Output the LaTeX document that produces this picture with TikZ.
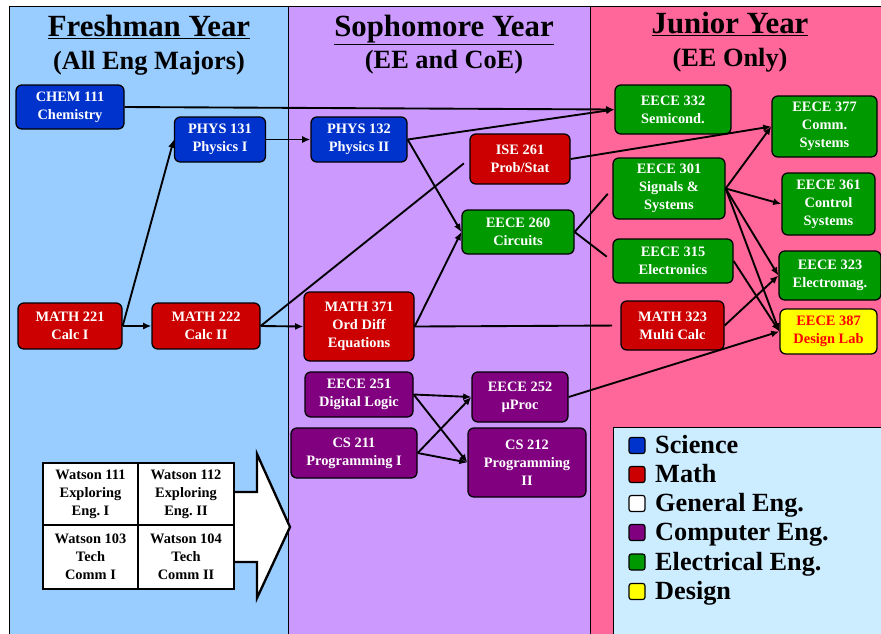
\documentclass[tikz,border=0pt]{standalone}
\usepackage{fontspec}
\setmainfont{Liberation Serif}
\usetikzlibrary{arrows.meta}
\definecolor{cFresh}{HTML}{99CCFF}
\definecolor{cSoph}{HTML}{CC99FF}
\definecolor{cJunior}{HTML}{FF6699}
\definecolor{cLegend}{HTML}{CCECFF}
\definecolor{cScience}{HTML}{0033CC}
\definecolor{cMath}{HTML}{CC0000}
\definecolor{cComp}{HTML}{800080}
\definecolor{cElec}{HTML}{009900}
\definecolor{cDesign}{HTML}{FFFF00}
\definecolor{cDesignText}{HTML}{FF0000}
\tikzset{
  boxsize/.style 2 args={minimum width=#1*0.3mm, minimum height=#2*0.3mm},
  course/.style={draw=black, rounded corners=5pt, line width=1.1pt,
    align=center, text=white, inner sep=1pt,
    font=\fontsize{12.3}{15.3}\selectfont\bfseries},
  scibox/.style={course, fill=cScience},
  mathbox/.style={course, fill=cMath},
  compbox/.style={course, fill=cComp},
  elecbox/.style={course, fill=cElec},
  designbox/.style={course, fill=cDesign, text=cDesignText},
  genbox/.style={course, fill=white, text=black, rounded corners=0pt,
    line width=1.4pt},
  panel/.style={draw=black, line width=0.7pt},
  yeartitle/.style={anchor=base, font=\fontsize{26.3}{30}\selectfont\bfseries},
  yearsub/.style={anchor=base, font=\fontsize{22.5}{26}\selectfont\bfseries},
  legkey/.style={draw=black, line width=1pt, rounded corners=2pt,
    minimum size=4.8mm, inner sep=0pt},
  legtext/.style={anchor=base west, inner sep=0pt,
    font=\fontsize{22.4}{26}\selectfont\bfseries},
  flow/.style={-{Latex[length=7pt, width=6pt]}, line width=1.6pt},
  openflow/.style={line width=1.6pt, shorten >=6pt},
}
\begin{document}
\frenchspacing
\begin{tikzpicture}[x=0.3mm, y=-0.3mm]
  \useasboundingbox (0,0) rectangle (881,633);

  % ----------------------------------------------------------------
  % Year panels
  % ----------------------------------------------------------------
  \draw[panel, fill=cFresh] (9,6) rectangle (288,645);
  \draw[panel, fill=cSoph] (288,6) rectangle (590,645);
  \draw[panel, fill=cJunior] (590,6) rectangle (895,645);
  \draw[panel, fill=cLegend] (613,427) rectangle (895,645);

  \node[yeartitle] (t1) at (149,36) {\underline{Freshman Year}};
  \node[yearsub] (s1) at (149,69) {(All Eng Majors)};
  \node[yeartitle] (t2) at (444,36) {\underline{Sophomore Year}};
  \node[yearsub] (s2) at (444,68) {(EE and CoE)};
  \node[yeartitle] (t3) at (730,33) {\underline{Junior Year}};
  \node[yearsub] (s3) at (730,66) {(EE Only)};

  % ----------------------------------------------------------------
  % Freshman courses
  % ----------------------------------------------------------------
  \node[scibox, boxsize={108}{44}] (chem111) at (70,107) {CHEM 111\\Chemistry};
  \node[scibox, boxsize={91}{45}] (phys131) at (220,139.5) {PHYS 131\\Physics I};
  \node[mathbox, boxsize={104}{46}] (math221) at (70,326) {MATH 221\\Calc I};
  \node[mathbox, boxsize={108}{46}] (math222) at (206,326) {MATH 222\\Calc II};

  % general engineering block feeding into the later years
  \draw[line width=2pt, fill=white] (225,492) -- (257,492) -- (257,454)
    -- (290,527) -- (257,598) -- (257,562) -- (225,562) -- cycle;
  \node[genbox, boxsize={95}{62}] (watson111) at (90.5,494) {Watson 111\\Exploring\\Eng. I};
  \node[genbox, boxsize={96}{62}] (watson112) at (186,494) {Watson 112\\Exploring\\Eng. II};
  \node[genbox, boxsize={95}{64}] (watson103) at (90.5,557) {Watson 103\\Tech\\Comm I};
  \node[genbox, boxsize={96}{64}] (watson104) at (186,557) {Watson 104\\Tech\\Comm II};

  % ----------------------------------------------------------------
  % Sophomore courses
  % ----------------------------------------------------------------
  \node[scibox, boxsize={96}{45}] (phys132) at (359,139.5) {PHYS 132\\Physics II};
  \node[mathbox, boxsize={100}{50}] (ise261) at (520,159) {ISE 261\\Prob/Stat};
  \node[elecbox, boxsize={112}{44}] (eece260) at (518,232) {EECE 260\\Circuits};
  \node[mathbox, boxsize={110}{69}] (math371) at (359,326.5) {MATH 371\\Ord Diff\\Equations};
  \node[compbox, boxsize={108}{45}] (eece251) at (359,394.5) {EECE 251\\Digital Logic};
  \node[compbox, boxsize={126}{50}] (cs211) at (354,453) {CS 211\\Programming I};
  \node[compbox, boxsize={96}{50}] (eece252) at (520,397) {EECE 252\\µProc};
  \node[compbox, boxsize={118}{69}] (cs212) at (527,462.5) {CS 212\\Programming\\II};

  % ----------------------------------------------------------------
  % Junior courses
  % ----------------------------------------------------------------
  \node[elecbox, boxsize={116}{49}] (eece332) at (673,109.5) {EECE 332\\Semicond.};
  \node[elecbox, boxsize={112}{61}] (eece301) at (669,188.5) {EECE 301\\Signals \&\\Systems};
  \node[elecbox, boxsize={120}{44}] (eece315) at (673,261) {EECE 315\\Electronics};
  \node[mathbox, boxsize={103}{49}] (math323) at (672.5,325.5) {MATH 323\\Multi Calc};
  \node[elecbox, boxsize={105}{61}] (eece377) at (824.5,126.5) {EECE 377\\Comm.\\Systems};
  \node[elecbox, boxsize={93}{62}] (eece361) at (828.5,204) {EECE 361\\Control\\Systems};
  \node[elecbox, boxsize={102}{49}] (eece323) at (830,275.5) {EECE 323\\Electromag.};
  \node[designbox, boxsize={97}{45}] (eece387) at (828.5,331.5) {EECE 387\\Design Lab};

  % ----------------------------------------------------------------
  % Prerequisite links
  % ----------------------------------------------------------------
  \draw[flow] (chem111.east) -- (eece332.west);
  \draw[flow] (phys131) -- (phys132);
  \draw[flow] (math221.east) -- (phys131.west);
  \draw[flow] (math221) -- (math222);
  \draw[flow] (math222.east) -- (math371.west);
  \draw[openflow] (math222.east) -- (ise261.west);
  \draw[flow] (ise261.east) -- (eece377.west);
  \draw[flow] (phys132.east) -- (eece332.west);
  \draw[flow] (phys132.east) -- (eece260.west);
  \draw[flow] (math371.east) -- (eece260.west);
  \draw[openflow, shorten >=7pt] (math371.east) -- (math323.west);
  \draw[openflow] (eece260.east) -- (eece301.west);
  \draw[openflow] (eece260.east) -- (eece315.west);
  \draw[flow] (eece251.east) -- (eece252.west);
  \draw[flow] (eece251.east) -- (cs212.west);
  \draw[flow] (cs211.east) -- (eece252.west);
  \draw[flow] (cs211.east) -- (cs212.west);
  \draw[flow] (eece252.east) -- (eece387.west);
  \draw[flow] (eece301.east) -- (eece377.west);
  \draw[flow] (eece301.east) -- (eece361.west);
  \draw[flow] (eece301.east) -- (eece323.west);
  \draw[flow] (eece301.east) -- (eece387.west);
  \draw[flow] (eece315.east) -- (eece387.west);
  \draw[flow] (math323.east) -- (eece323.west);

  % ----------------------------------------------------------------
  % Legend
  % ----------------------------------------------------------------
  \foreach \keycol/\keyname/\ky [count=\i] in {cScience/Science/445.5,
      cMath/Math/474.5, white/General Eng./503.5, cComp/Computer Eng./532.5,
      cElec/Electrical Eng./562, cDesign/Design/591.5} {
    \node[legkey, fill=\keycol] (key\i) at (637,\ky) {};
    \node[legtext] (label\i) at (655,\ky+8) {\keyname};
  }

\end{tikzpicture}
\end{document}
